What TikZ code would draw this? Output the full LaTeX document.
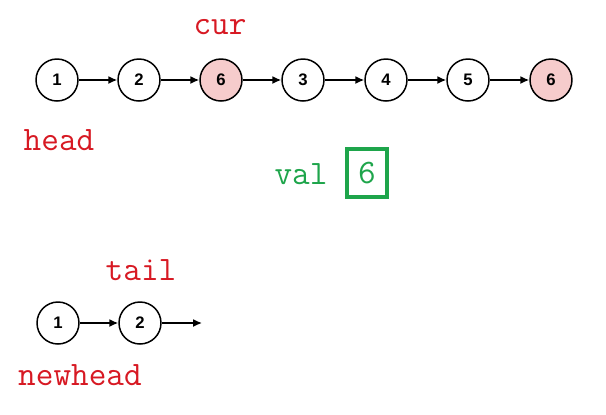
\documentclass[tikz,border=0pt]{standalone}
\usepackage{fontspec}
\usepackage{xcolor}
\usepackage{tikz}
\usetikzlibrary{arrows.meta}
\usetikzlibrary{positioning}
\newfontfamily\numfont{Liberation Sans}
\definecolor{ptrred}{RGB}{215,25,35}
\definecolor{valgreen}{RGB}{30,165,75}
\definecolor{hitpink}{RGB}{246,204,204}

\begin{document}
\begin{tikzpicture}[
  x=0.02cm, y=-0.02cm,
  ln/.style={circle, draw, line width=0.85pt, minimum size=0.84cm, inner sep=0pt, font=\numfont\bfseries\fontsize{9.5}{9.5}\selectfont},
  hit/.style={ln, fill=hitpink},
  nx/.style={-{Latex[length=5pt,width=4.5pt]}, line width=0.85pt},
  ptr/.style={text=ptrred, font=\ttfamily\fontsize{19.5}{19.5}\selectfont, inner sep=0pt},
  vl/.style={text=valgreen, font=\ttfamily\fontsize{19.5}{19.5}\selectfont, inner sep=0pt}
]
\useasboundingbox (0,0) rectangle (606,414);
% original list, the 6s are the ones to drop
\node[ln]  (1)  at (57, 80)  {1};
\node[ln]  (2)  at (139, 80) {2};
\node[hit] (6)  at (221, 80) {6};
\node[ln]  (3)  at (303, 80) {3};
\node[ln]  (4)  at (386, 80) {4};
\node[ln]  (5)  at (468, 80) {5};
\node[hit] (6b) at (551, 80) {6};

\draw[nx] (1) -- (2);
\draw[nx] (2) -- (6);
\draw[nx] (6) -- (3);
\draw[nx] (3) -- (4);
\draw[nx] (4) -- (5);
\draw[nx] (5) -- (6b);

% pointers
\node[ptr] (cur)  at (220, 27)  {cur};
\node[ptr] (head) at (59, 140)  {head};

% value to remove
\node[vl] (val) at (301, 174) {val};
\node[vl, draw=valgreen, line width=2.3pt, minimum width=0.8cm, minimum height=0.96cm] (v6) at (367, 173) {6};

% new list
\node[ln] (nh1) at (58, 323)  {1};
\node[ln] (nh2) at (140, 323) {2};
\coordinate (nend) at (202, 323);

\draw[nx] (nh1) -- (nh2);
\draw[nx] (nh2) -- (nend);

\node[ptr] (tail)    at (141, 270) {tail};
\node[ptr] (newhead) at (80, 375)  {newhead};
\end{tikzpicture}
\end{document}
